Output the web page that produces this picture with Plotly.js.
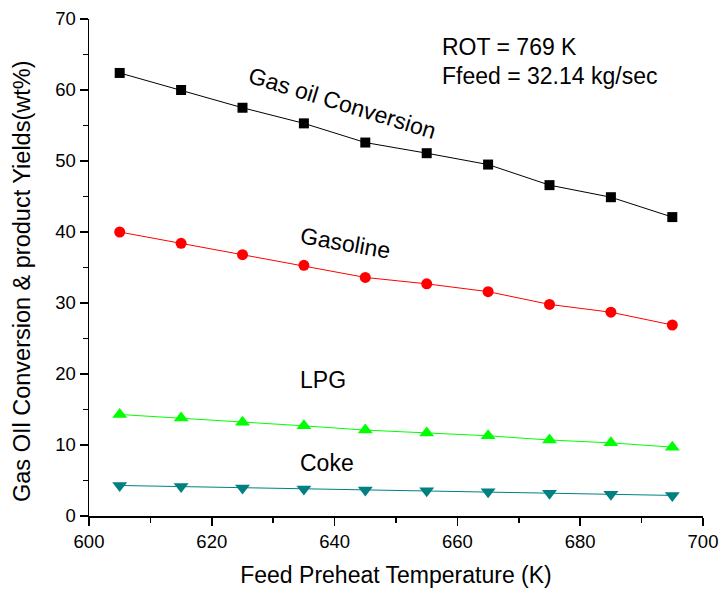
<!DOCTYPE html>
<html>
<head>
<meta charset="utf-8">
<script src="https://cdn.plot.ly/plotly-3.0.1.min.js"></script>
<style>html,body{margin:0;padding:0;background:#fff;}#chart{width:720px;height:596px;}</style>
</head>
<body>
<div id="chart"></div>
<script>
const temperature = [605, 615, 625, 635, 645, 655, 665, 675, 685, 695];
const gasOilConversion = [62.4, 60.0, 57.5, 55.3, 52.6, 51.1, 49.5, 46.6, 44.9, 42.1];
const gasoline = [40.0, 38.4, 36.8, 35.3, 33.6, 32.7, 31.6, 29.8, 28.7, 26.9];
const lpg = [14.3, 13.8, 13.2, 12.7, 12.1, 11.7, 11.3, 10.7, 10.3, 9.7];
const coke = [4.3, 4.15, 3.95, 3.8, 3.65, 3.55, 3.4, 3.2, 3.05, 2.9];

const font = 'Liberation Sans, Arial, sans-serif';
function series(y, color, symbol, size, lineColor) {
  return {x: temperature, y: y, type: 'scatter', mode: 'lines+markers',
    line: {color: lineColor || color, width: 1},
    marker: {color: color, symbol: symbol, size: size}, showlegend: false, hoverinfo: 'skip'};
}
const data = [
  series(gasOilConversion, '#000000', 'square', 10),
  series(gasoline, '#ff0000', 'circle', 11),
  series(lpg, '#00ff00', 'triangle-up', 13),
  series(coke, '#008080', 'triangle-down', 13)
];
const axisCommon = {showgrid: false, zeroline: false, showline: true, linecolor: '#000', linewidth: 1.5,
  ticks: 'outside', ticklen: 8, tickwidth: 1.5, tickcolor: '#000',
  tickfont: {family: font, size: 18.5, color: '#000'},
  minor: {ticks: 'outside', ticklen: 5, tickwidth: 1.5, tickcolor: '#000'}};
const layout = {
  width: 720, height: 596,
  margin: {l: 89, r: 17, t: 19, b: 80},
  paper_bgcolor: '#fff', plot_bgcolor: '#fff',
  xaxis: Object.assign({}, axisCommon, {range: [600, 700], dtick: 20, tick0: 600,
    minor: Object.assign({}, axisCommon.minor, {dtick: 10}),
    title: {text: 'Feed Preheat Temperature (K)', font: {family: font, size: 23, color: '#000'}, standoff: 16}}),
  yaxis: Object.assign({}, axisCommon, {range: [0, 70], dtick: 10, tick0: 0,
    minor: Object.assign({}, axisCommon.minor, {dtick: 5})}),
  annotations: [
    {xref: 'paper', yref: 'paper', x: -0.109, y: 0.471, xanchor: 'center', yanchor: 'middle', showarrow: false,
      textangle: -90, text: 'Gas OIl Conversion & product Yields(wt%)', font: {family: font, size: 23.5, color: '#000'}},
    {xref: 'paper', yref: 'paper', x: 0.572, y: 0.944, xanchor: 'left', yanchor: 'middle', showarrow: false,
      text: 'ROT = 769 K', font: {family: font, size: 23, color: '#000'}},
    {xref: 'paper', yref: 'paper', x: 0.572, y: 0.886, xanchor: 'left', yanchor: 'middle', showarrow: false,
      text: 'Ffeed = 32.14 kg/sec', font: {family: font, size: 23, color: '#000'}},
    {x: 641.2, y: 58.1, showarrow: false, textangle: 17, text: 'Gas oil Conversion', font: {family: font, size: 23, color: '#000'}},
    {x: 641.7, y: 38.4, showarrow: false, textangle: 10, text: 'Gasoline', font: {family: font, size: 23, color: '#000'}},
    {x: 638.1, y: 19.1, showarrow: false, text: 'LPG', font: {family: font, size: 23, color: '#000'}},
    {x: 638.7, y: 7.4, showarrow: false, text: 'Coke', font: {family: font, size: 23, color: '#000'}}
  ]
};
Plotly.newPlot('chart', data, layout, {staticPlot: true, displayModeBar: false});
</script>
</body>
</html>
